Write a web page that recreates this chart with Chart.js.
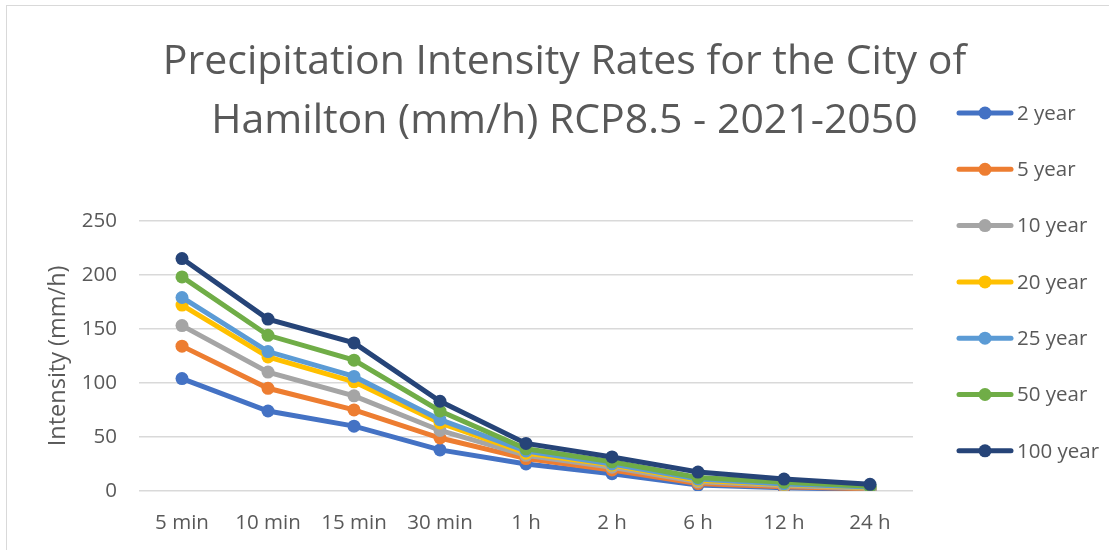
<!DOCTYPE html>
<html>
<head>
<meta charset="utf-8">
<script src="https://cdn.jsdelivr.net/npm/chart.js@4/dist/chart.umd.min.js"></script>
<style>
    html, body { margin: 0; padding: 0; background: #fff; overflow: hidden; }
    #moldura {
        position: absolute; left: 6px; top: 5px; width: 1200px; height: 600px;
        border-left: 1px solid #d9d9d9; border-top: 1px solid #d9d9d9;
    }
    #area { position: absolute; left: 0; top: 0; width: 1109px; height: 550px; }
</style>
</head>
<body>
<div id="moldura"></div>
<div id="area"><canvas id="graficoIntensidade"></canvas></div>
<script>
// Durações (eixo X)
const duracoes = ['5 min', '10 min', '15 min', '30 min', '1 h', '2 h', '6 h', '12 h', '24 h'];

// Intensidade (mm/h) por período de retorno
const ret2 = [104, 74, 60, 38, 25, 16, 5.5, 3, 1.5];
const ret5 = [134, 95, 75, 49, 30, 19.5, 7, 4, 2];
const ret10 = [153, 110, 88, 56, 33, 22, 8.5, 5, 2.5];
const ret20 = [172, 124, 101, 63, 35, 24, 10, 6, 3.2];
const ret25 = [179, 129, 106, 66, 37, 25, 11, 6.5, 3.6];
const ret50 = [198, 144, 121, 74, 39, 27, 12.5, 8, 4.5];
const ret100 = [215, 159, 137, 83, 44, 31.5, 17.5, 11, 6.2];

const nomesSeries = ['2 year', '5 year', '10 year', '20 year', '25 year', '50 year', '100 year'];
const coresSeries = ['#4472C4', '#ED7D31', '#A5A5A5', '#FFC000', '#5B9BD5', '#70AD47', '#264478'];
const valoresSeries = [ret2, ret5, ret10, ret20, ret25, ret50, ret100];

const ticksY = [0, 50, 100, 150, 200, 250];
const tituloGrafico = ['Precipitation Intensity Rates for the City of', 'Hamilton (mm/h) RCP8.5 - 2021-2050'];
const tituloEixoY = 'Intensity (mm/h)';

const CINZA_TEXTO = '#595959';
const FONTE = "'Open Sans', sans-serif";

// Legenda desenhada à direita, uma entrada por série (linha + marcador)
const legendaLateral = {
    id: 'legendaLateral',
    afterDraw(chart) {
        const ctx = chart.ctx;
        ctx.save();
        chart.data.datasets.forEach((ds, i) => {
            const y = 113 + i * 56.3;
            ctx.strokeStyle = ds.borderColor;
            ctx.lineWidth = 5;
            ctx.lineCap = 'round';
            ctx.beginPath();
            ctx.moveTo(959, y);
            ctx.lineTo(1011, y);
            ctx.stroke();
            ctx.fillStyle = ds.borderColor;
            ctx.beginPath();
            ctx.arc(985, y, 6.5, 0, Math.PI * 2);
            ctx.fill();
            ctx.fillStyle = CINZA_TEXTO;
            ctx.font = '20.5px ' + FONTE;
            ctx.textBaseline = 'middle';
            ctx.textAlign = 'left';
            ctx.fillText(ds.label, 1017, y + 1);
        });
        ctx.restore();
    }
};

const ctx = document.getElementById('graficoIntensidade');
new Chart(ctx, {
    type: 'line',
    data: {
        labels: duracoes,
        datasets: valoresSeries.map((valores, i) => ({
            label: nomesSeries[i],
            data: valores,
            borderColor: coresSeries[i],
            backgroundColor: coresSeries[i],
            borderWidth: 5,
            pointRadius: 6.5,
            pointBorderWidth: 0,
            pointHoverRadius: 6.5,
            tension: 0,
            // a última série fica por cima
            order: valoresSeries.length - i
        }))
    },
    options: {
        responsive: true,
        maintainAspectRatio: false,
        animation: false,
        layout: { padding: { left: 20, right: 0, top: 0, bottom: 0 } },
        plugins: {
            legend: { display: false },
            tooltip: { enabled: false },
            title: {
                display: true,
                text: tituloGrafico,
                color: CINZA_TEXTO,
                font: { family: FONTE, size: 41, weight: 'normal', lineHeight: 1.46 },
                padding: { top: 32, bottom: 69 }
            }
        },
        scales: {
            x: {
                offset: true,
                afterFit(scale) { scale.height = 59; },
                grid: { display: false, drawTicks: false },
                border: { display: false },
                ticks: {
                    color: CINZA_TEXTO,
                    padding: 20,
                    maxRotation: 0,
                    font: { family: FONTE, size: 20.5 }
                }
            },
            y: {
                min: 0,
                max: 250,
                afterBuildTicks(scale) {
                    scale.ticks = ticksY.map(v => ({ value: v }));
                },
                afterFit(scale) { scale.width = 119; },
                grid: { color: '#d9d9d9', lineWidth: 1.5, drawTicks: false },
                border: { display: false },
                ticks: {
                    color: CINZA_TEXTO,
                    padding: 22,
                    font: { family: FONTE, size: 20.5 }
                },
                title: {
                    display: true,
                    text: tituloEixoY,
                    color: CINZA_TEXTO,
                    padding: { top: 24, bottom: 0 },
                    font: { family: FONTE, size: 23.5 }
                }
            },
            // espaço reservado para a legenda
            espacoLegenda: {
                type: 'linear',
                position: 'right',
                display: true,
                afterFit(scale) { scale.width = 196; },
                grid: { display: false, drawTicks: false },
                border: { display: false },
                ticks: { display: false }
            }
        }
    },
    plugins: [legendaLateral]
});
</script>
</body>
</html>
